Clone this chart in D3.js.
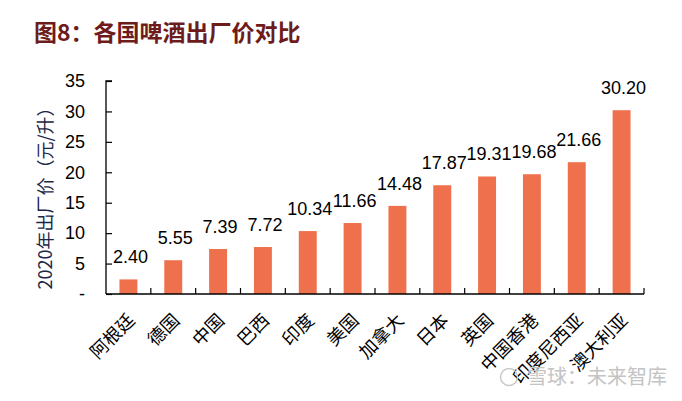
<!DOCTYPE html>
<html><head><meta charset="utf-8">
<script src="https://cdn.jsdelivr.net/npm/d3@7"></script>
<style>body{margin:0;background:#fff}svg{display:block}</style>
</head><body>
<svg id="c" width="682" height="401"></svg>
<script>
const categories = ["阿根廷","德国","中国","巴西","印度","美国","加拿大","日本","英国","中国香港","印度尼西亚","澳大利亚"];
const values = [2.40,5.55,7.39,7.72,10.34,11.66,14.48,17.87,19.31,19.68,21.66,30.20];
const valueLabels = ["2.40","5.55","7.39","7.72","10.34","11.66","14.48","17.87","19.31","19.68","21.66","30.20"];
const yTicks = [0,5,10,15,20,25,30,35];
const yTickLabels = ["-","5","10","15","20","25","30","35"];
const title = "图8：各国啤酒出厂价对比";
const yTitle = "2020年出厂价（元/升）";
const watermark = "雪球：未来智库";

(function(){
const svg = d3.select("#c");
const pL = 106, pR = 644, pT = 81, pB = 294;
const numFont = "'Liberation Sans', Arial, sans-serif";
const cjkFont = "'Noto Sans CJK SC', sans-serif";

const x = d3.scaleBand().domain(categories).range([pL, pR]).paddingInner(0).paddingOuter(0);
const y = d3.scaleLinear().domain([0, 35]).range([pB, pT]);
const barW = x.bandwidth() * 0.4;

// title
svg.append("text").attr("x", 34).attr("y", 41)
  .attr("font-family", cjkFont).attr("font-weight", "bold").attr("font-size", 23)
  .attr("fill", "#6E1B1B").text(title);

// bars
svg.append("g").selectAll("rect").data(values).join("rect")
  .attr("x", (d, i) => x(categories[i]) + (x.bandwidth() - barW) / 2)
  .attr("y", d => y(d))
  .attr("width", barW)
  .attr("height", d => y(0) - y(d))
  .attr("fill", "#EE704C");

// value labels
svg.append("g").selectAll("text").data(values).join("text")
  .attr("x", (d, i) => x(categories[i]) + x.bandwidth() / 2 + 2)
  .attr("y", d => y(d) - 16)
  .attr("text-anchor", "middle")
  .attr("font-family", numFont).attr("font-size", 18).attr("fill", "#000")
  .text((d, i) => valueLabels[i]);

// y axis
const yAxis = d3.axisRight(y).tickValues(yTicks).tickSize(6).tickFormat("");
const gy = svg.append("g").attr("transform", `translate(${pL},0)`).call(yAxis);
gy.select(".domain").attr("d", `M6,${pT}H0V${pB}`).attr("stroke", "#000").attr("stroke-width", 1.3);
gy.selectAll(".tick line").attr("stroke", "#000").attr("stroke-width", 1.2);

svg.append("g").selectAll("text").data(yTicks).join("text")
  .attr("x", 85).attr("y", d => y(d))
  .attr("dy", "0.35em").attr("text-anchor", "end")
  .attr("font-family", numFont).attr("font-size", 18).attr("fill", "#000")
  .text((d, i) => yTickLabels[i]);

// x axis
const boundaries = categories.map(c => x(c) + x.bandwidth());
const gx = svg.append("g").attr("transform", `translate(0,${pB})`);
gx.append("line").attr("x1", pL).attr("x2", pR).attr("y1", 0).attr("y2", 0)
  .attr("stroke", "#000").attr("stroke-width", 1.3);
gx.selectAll("line.t").data(boundaries).join("line").attr("class", "t")
  .attr("x1", d => d).attr("x2", d => d).attr("y1", 0).attr("y2", -6)
  .attr("stroke", "#000").attr("stroke-width", 1.2);

svg.append("g").selectAll("text").data(categories).join("text")
  .attr("transform", d => `translate(${x(d) + x.bandwidth() / 2 + 3},${pB + 23}) rotate(-45)`)
  .attr("text-anchor", "end").attr("dy", "0.35em")
  .attr("font-family", cjkFont).attr("font-size", 18).attr("fill", "#000")
  .text(d => d);

// y title
svg.append("text")
  .attr("transform", `translate(52,194) rotate(-90)`)
  .attr("text-anchor", "middle")
  .attr("font-family", cjkFont).attr("font-size", 18).attr("fill", "#1C2748")
  .text(yTitle);

// watermark
const wm = svg.append("g");
wm.append("circle").attr("cx", 509).attr("cy", 377).attr("r", 8.5)
  .attr("fill", "none").attr("stroke", "#c8c8c8").attr("stroke-width", 1.5);
wm.append("text").attr("x", 527).attr("y", 384)
  .attr("font-family", cjkFont).attr("font-size", 20).attr("fill", "#c4c4c4")
  .text(watermark);
})();
</script>
</body></html>
